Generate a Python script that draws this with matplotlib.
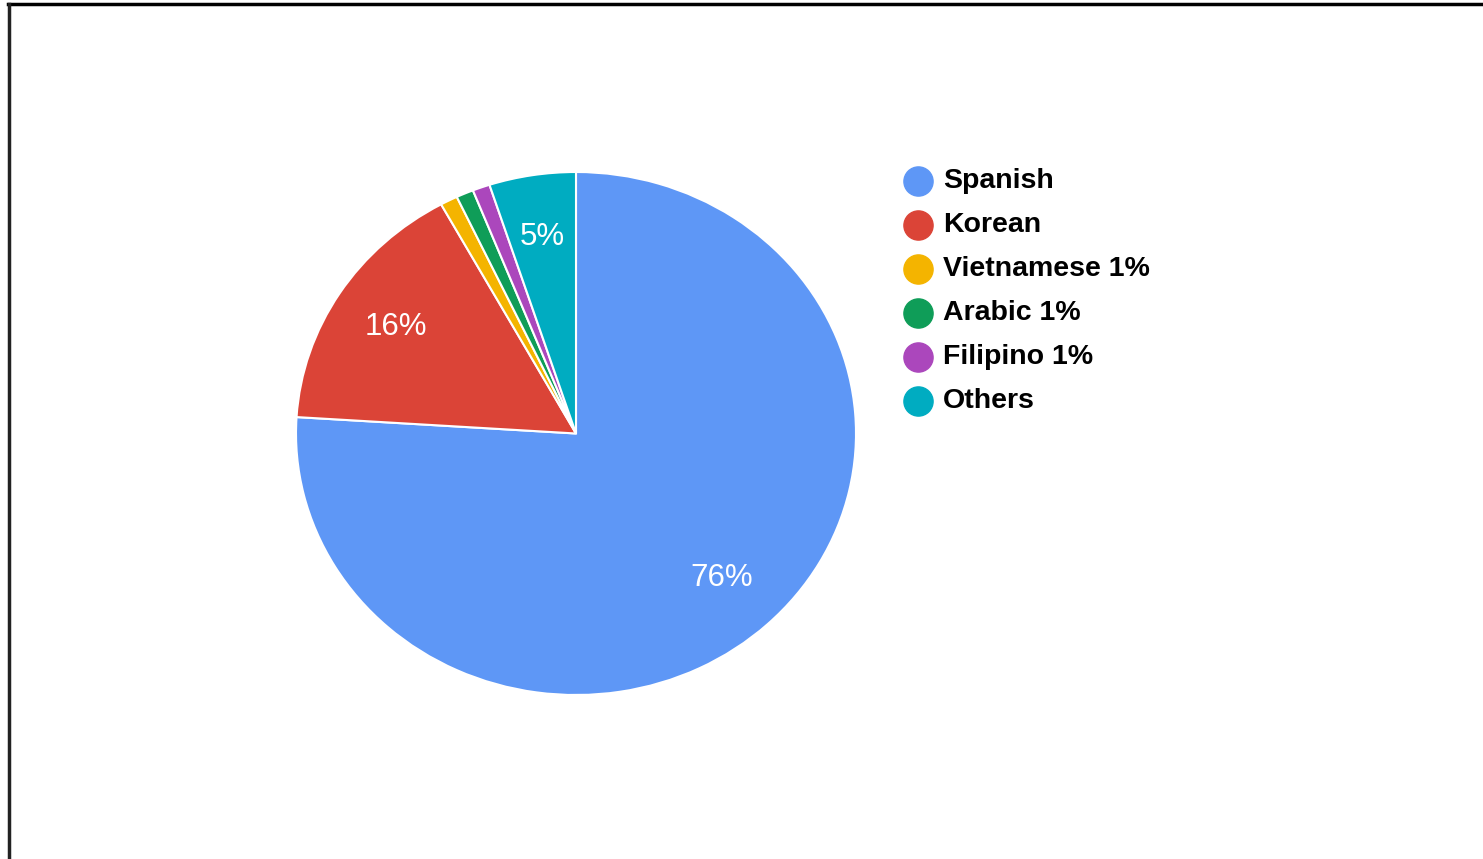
import matplotlib.pyplot as plt
from matplotlib.lines import Line2D

# Datos del gráfico
languages = ['Spanish', 'Korean', 'Vietnamese', 'Arabic', 'Filipino', 'Others']
shares = [76, 16, 1, 1, 1, 5]
legend_labels = ['Spanish', 'Korean', 'Vietnamese 1%', 'Arabic 1%', 'Filipino 1%', 'Others']
colors = ['#5e97f6', '#db4437', '#f4b400', '#0f9d58', '#ab47bc', '#00acc1']

plt.rcParams['font.family'] = ['Liberation Sans', 'DejaVu Sans']

fig = plt.figure(figsize=(14.83, 8.59), dpi=100)
W, H = 1483, 859

# Marco (solo arriba e izquierda, como en la captura)
fig.add_artist(Line2D([8 / W, 1], [1 - 4 / H, 1 - 4 / H], color='black', lw=2.5))
fig.add_artist(Line2D([8.5 / W, 8.5 / W], [0, 1 - 4 / H], color='#222222', lw=2.5))

# Ejes del pastel (ligeramente elíptico como en la imagen)
ax = fig.add_axes([296 / W, (H - 695) / H, 560 / W, 523 / H])


def pct_label(p):
    return f'{p:.0f}%' if p >= 2 else ''


wedges, texts, autotexts = ax.pie(
    shares, colors=colors, startangle=90, counterclock=False,
    autopct=pct_label, pctdistance=0.76, radius=1,
    wedgeprops=dict(edgecolor='white', linewidth=1.5),
    textprops=dict(color='white', fontsize=22.5),
)
ax.set_aspect('auto')
ax.set_xlim(-1, 1)
ax.set_ylim(-1, 1)
ax.axis('off')

# Leyenda con círculos
y0 = 181
for i, (lab, col) in enumerate(zip(legend_labels, colors)):
    y = 1 - (y0 + i * 44) / H
    fig.add_artist(Line2D([918 / W], [y], marker='o', markersize=21,
                          color=col, linestyle='none'))
    fig.text(943 / W, y, lab, fontsize=20.5, fontweight='bold',
             va='center', ha='left', color='black')

plt.savefig('out.png', dpi=100)
